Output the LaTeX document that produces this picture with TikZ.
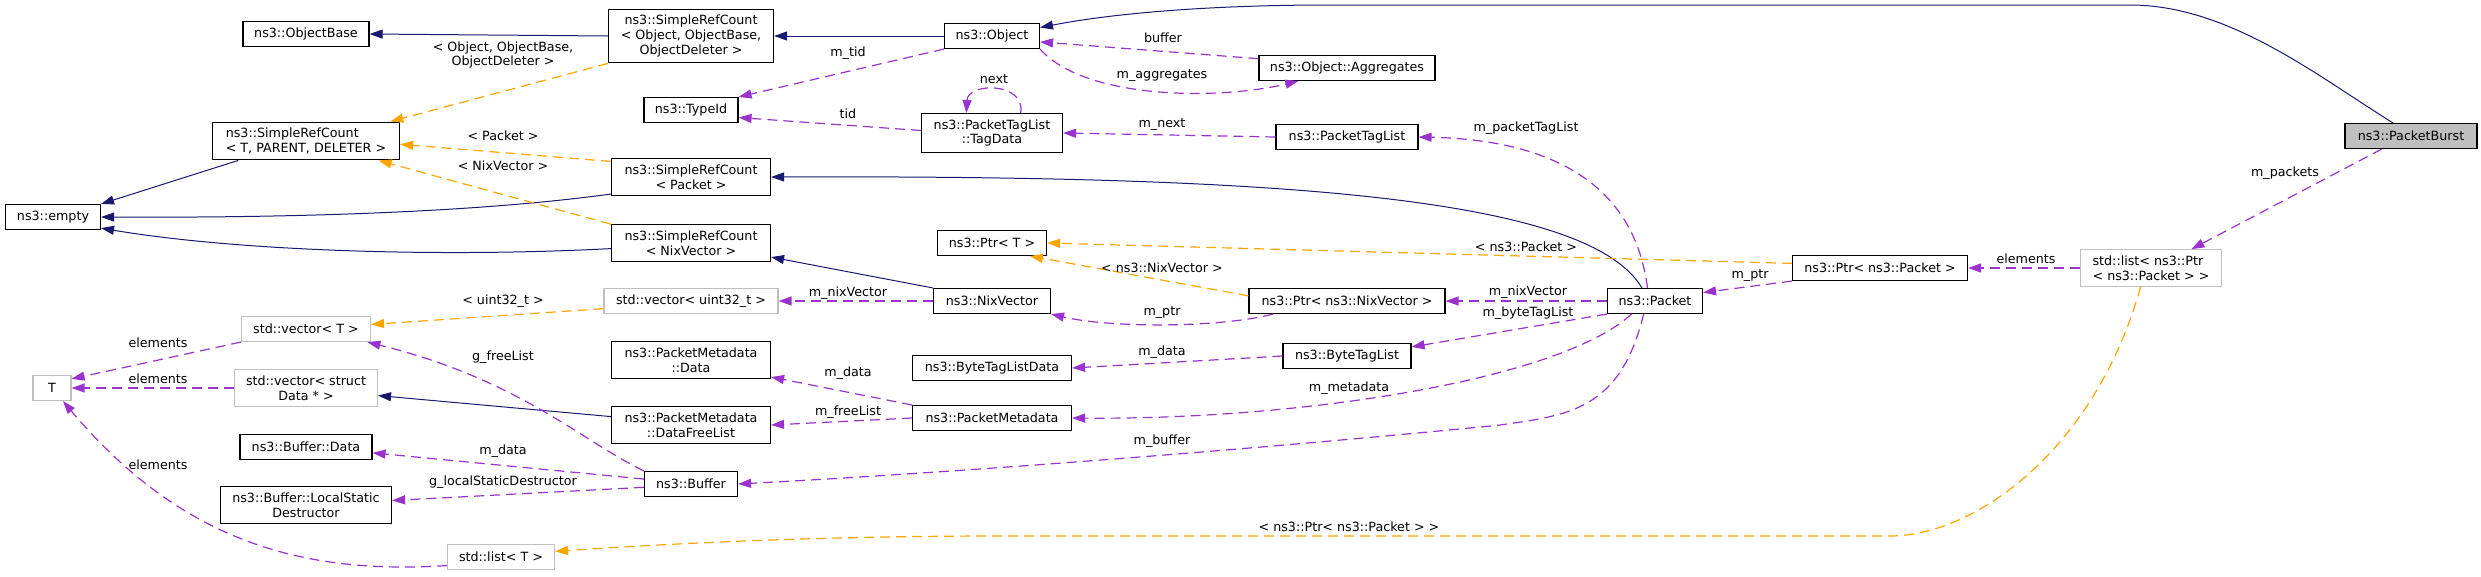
\documentclass[tikz,border=0pt]{standalone}
\usepackage{fontspec}
\setmainfont{DejaVu Sans}
\usepackage{tikz}
\usepackage{xcolor}
\usetikzlibrary{arrows.meta}
\definecolor{inhblue}{HTML}{191970}
\definecolor{mempurple}{HTML}{9A32CD}
\definecolor{tplorange}{HTML}{FFA500}
\definecolor{boxgrey}{HTML}{BFBFBF}

\begin{document}
\begin{tikzpicture}[x=1pt,y=-1pt,font=\fontsize{12.7}{14.7}\selectfont,
  box/.style={draw=black,line width=1.1pt,inner xsep=4pt,inner ysep=6pt,minimum height=25pt,align=center},
  gbox/.style={box,draw=boxgrey},
  inh/.style={color=inhblue,line width=1pt,-{Triangle[length=13pt,width=9pt]}},
  tpl/.style={color=tplorange,line width=1.2pt,dash pattern=on 10pt off 6pt,-{Triangle[length=13pt,width=9pt]}},
  mem/.style={color=mempurple,line width=1.2pt,dash pattern=on 10pt off 6pt,-{Triangle[length=13pt,width=9pt]}},
  lbl/.style={inner sep=0pt,align=center}]
\useasboundingbox (0,0) rectangle (2481,576);
\node[box,minimum width=126] (objbase) at (306,34) {ns3::ObjectBase};
\node[box,minimum width=165] (srcobj) at (691,36) {ns3::SimpleRefCount\\< Object, ObjectBase,\\ObjectDeleter >};
\node[box,minimum width=95] (object) at (992,36) {ns3::Object};
\node[box,minimum width=176] (aggr) at (1347,68) {ns3::Object::Aggregates};
\node[box,minimum width=94] (typeid) at (691,110) {ns3::TypeId};
\node[box,minimum width=187,align=left] (srct) at (306,141) {ns3::SimpleRefCount\\< T, PARENT, DELETER >};
\node[box,minimum width=141] (tagdata) at (992,133) {ns3::PacketTagList\\::TagData};
\node[box,minimum width=142] (ptaglist) at (1347,137) {ns3::PacketTagList};
\node[box,minimum width=132,fill=boxgrey] (burst) at (2411,136) {ns3::PacketBurst};
\node[box,minimum width=95] (empty) at (53,217) {ns3::empty};
\node[box,minimum width=159] (srcpkt) at (691,177) {ns3::SimpleRefCount\\< Packet >};
\node[box,minimum width=159] (srcnix) at (691,243) {ns3::SimpleRefCount\\< NixVector >};
\node[box,minimum width=109] (ptrt) at (992,243) {ns3::Ptr< T >};
\node[box,minimum width=175] (ptrpkt) at (1880,268) {ns3::Ptr< ns3::Packet >};
\node[gbox,minimum width=141,align=left] (listptr) at (2151,268) {std::list< ns3::Ptr\\< ns3::Packet > >};
\node[gbox,minimum width=129] (vect) at (306,329) {std::vector< T >};
\node[gbox,minimum width=174] (vecu32) at (691,301) {std::vector< uint32\_t >};
\node[box,minimum width=117] (nixvec) at (992,301) {ns3::NixVector};
\node[box,minimum width=196] (ptrnix) at (1347,301) {ns3::Ptr< ns3::NixVector >};
\node[box,minimum width=95] (packet) at (1655,301) {ns3::Packet};
\node[gbox,minimum width=38] (tnode) at (52,388) {T};
\node[gbox,minimum width=143] (vecdata) at (306,388) {std::vector< struct\\Data * >};
\node[box,minimum width=159] (pmdata) at (691,360) {ns3::PacketMetadata\\::Data};
\node[box,minimum width=159] (btldata) at (992,368) {ns3::ByteTagListData};
\node[box,minimum width=128] (btl) at (1347,356) {ns3::ByteTagList};
\node[box,minimum width=159] (pmfree) at (691,425) {ns3::PacketMetadata\\::DataFreeList};
\node[box,minimum width=159] (pmeta) at (992,418) {ns3::PacketMetadata};
\node[box,minimum width=132] (bufdata) at (306,447) {ns3::Buffer::Data};
\node[box,minimum width=93] (buffer) at (691,484) {ns3::Buffer};
\node[box,minimum width=171] (lsd) at (306,505) {ns3::Buffer::LocalStatic\\Destructor};
\node[gbox,minimum width=107] (listt) at (501,557) {std::list< T >};

\draw[inh] (srcobj.west) -- (objbase.east);
\draw[inh] (object.west) -- (srcobj.east);
\draw[inh] (srct.196) -- (empty.north east);
\draw[inh] (srcpkt.192) .. controls (480,212) and (300,218) .. (empty.east);
\draw[inh] (srcnix.184) .. controls (430,258) and (230,250) .. (empty.-13);
\draw[inh] (packet.135) .. controls (1590,200) and (1300,175) .. (srcpkt.east);
\draw[inh] (nixvec.north west) -- (srcnix.-10);
\draw[inh] (burst.144) .. controls (2320,78) and (2230,5) .. (2130,5) -- (1330,5) .. controls (1220,5) and (1120,12) .. (object.10);
\draw[inh] (pmfree.174) -- (vecdata.-6);

\draw[tpl] (srcobj.south west) -- (srct.13);
\draw[tpl] (srcpkt.169) -- (srct.-2);
\draw[tpl] (srcnix.north west) -- (srct.-15);
\draw[tpl] (vecu32.185) -- (vect.4);
\draw[tpl] (ptrpkt.177) -- (ptrt.east);
\draw[tpl] (ptrnix.177) -- (ptrt.-19);
\draw[tpl] (listptr.-119) .. controls (2095,450) and (1975,536) .. (1890,536) -- (1000,536) .. controls (800,536) and (650,545) .. (listt.6);

\draw[mem] (object.south west) -- (typeid.north east);
\draw[mem] (aggr.174) -- (object.-7);
\draw[mem] (object.south east) .. controls (1085,100) and (1220,100) .. (aggr.195);
\draw[mem] (tagdata.178) -- (typeid.-9);
\draw[mem] (tagdata.35) .. controls (1026,82) and (968,82) .. (tagdata.142);
\draw[mem] (ptaglist.west) -- (tagdata.east);
\draw[mem] (packet.120) .. controls (1635,190) and (1560,140) .. (ptaglist.east);
\draw[mem] (packet.west) -- (ptrnix.east);
\draw[mem] (ptrnix.190) .. controls (1220,328) and (1110,328) .. (nixvec.south east);
\draw[mem] (nixvec.west) -- (vecu32.east);
\draw[mem] (packet.south west) -- (btl.8);
\draw[mem] (btl.west) -- (btldata.east);
\draw[mem] (packet.209) .. controls (1560,380) and (1300,420) .. (pmeta.east);
\draw[mem] (packet.229) .. controls (1620,410) and (1570,415) .. (1500,425) .. controls (1300,445) and (1000,470) .. (buffer.east);
\draw[mem] (pmeta.north west) -- (pmdata.-12);
\draw[mem] (pmeta.west) -- (pmfree.east);
\draw[mem] (buffer.north west) .. controls (580,440) and (520,380) .. (vect.-12);
\draw[mem] (buffer.174) -- (bufdata.-5);
\draw[mem] (buffer.184) -- (lsd.3);
\draw[mem] (vect.south west) -- (tnode.25);
\draw[mem] (vecdata.west) -- (tnode.east);
\draw[mem] (listt.189) .. controls (300,575) and (180,540) .. (tnode.-50);
\draw[mem] (ptrpkt.south west) -- (packet.10);
\draw[mem] (listptr.west) -- (ptrpkt.east);
\draw[mem] (burst.204) -- (listptr.25);

\node[lbl] (lobj) at (503,55) {< Object, ObjectBase,\\ObjectDeleter >};
\node[lbl] (lpkt) at (503,136) {< Packet >};
\node[lbl] (lnix) at (503,166) {< NixVector >};
\node[lbl] (lu32) at (503,301) {< uint32\_t >};
\node[lbl] (lptrpkt) at (1526,247) {< ns3::Packet >};
\node[lbl] (lptrnix) at (1162,268) {< ns3::NixVector >};
\node[lbl] (llistptr) at (1349,527) {< ns3::Ptr< ns3::Packet > >};
\node[lbl] (lmtid) at (848,53) {m\_tid};
\node[lbl] (lbuffer) at (1163,38) {buffer};
\node[lbl] (laggr) at (1162,76) {m\_aggregates};
\node[lbl] (lnext) at (994,79) {next};
\node[lbl] (ltid) at (848,114) {tid};
\node[lbl] (lmnext) at (1162,125) {m\_next};
\node[lbl] (lptl) at (1526,128) {m\_packetTagList};
\node[lbl] (lnixa) at (848,293) {m\_nixVector};
\node[lbl] (lnixb) at (1528,292) {m\_nixVector};
\node[lbl] (lptra) at (1162,313) {m\_ptr};
\node[lbl] (lptrb) at (1750,276) {m\_ptr};
\node[lbl] (lbtl) at (1528,313) {m\_byteTagList};
\node[lbl] (ldataa) at (1162,352) {m\_data};
\node[lbl] (ldatab) at (848,373) {m\_data};
\node[lbl] (ldatac) at (503,451) {m\_data};
\node[lbl] (lfree) at (848,412) {m\_freeList};
\node[lbl] (lmeta) at (1349,388) {m\_metadata};
\node[lbl] (lbuf) at (1162,441) {m\_buffer};
\node[lbl] (lela) at (158,343) {elements};
\node[lbl] (lelb) at (158,379) {elements};
\node[lbl] (lelc) at (158,465) {elements};
\node[lbl] (leld) at (2026,259) {elements};
\node[lbl] (lgfree) at (503,357) {g\_freeList};
\node[lbl] (lglsd) at (503,482) {g\_localStaticDestructor};
\node[lbl] (lpackets) at (2285,173) {m\_packets};
\end{tikzpicture}
\end{document}
